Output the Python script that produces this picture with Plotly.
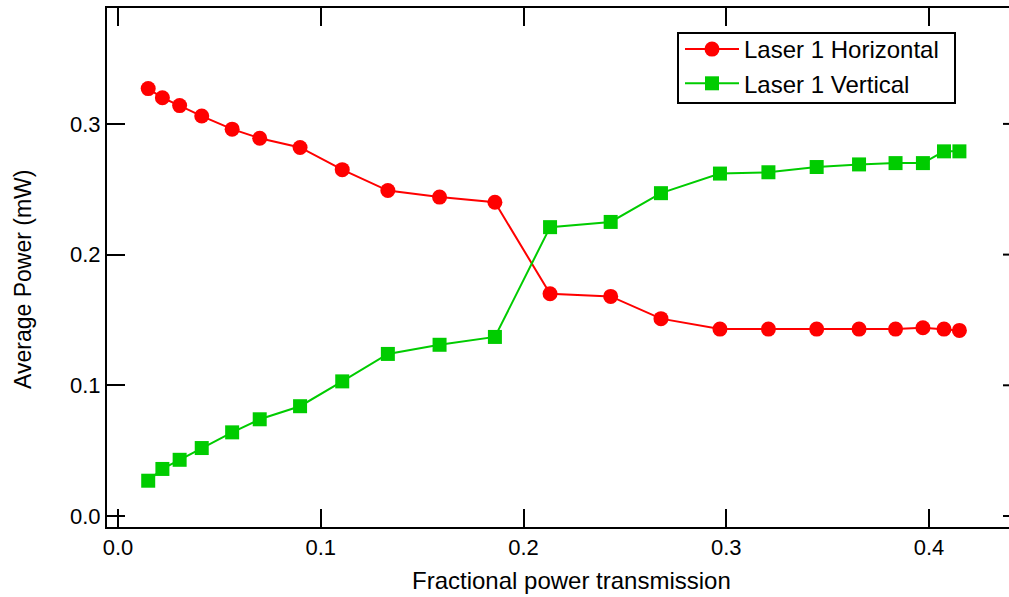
import plotly.graph_objects as go

# Data
frac_transmission = [0.0149, 0.0219, 0.0304, 0.0413, 0.0563, 0.0699, 0.0898, 0.1106,
                     0.1331, 0.1586, 0.1859, 0.2131, 0.2430, 0.2678, 0.2969, 0.3208,
                     0.3446, 0.3655, 0.3835, 0.3970, 0.4074, 0.4150]
laser1_horizontal = [0.327, 0.320, 0.314, 0.306, 0.296, 0.289, 0.282, 0.265,
                     0.249, 0.244, 0.240, 0.170, 0.168, 0.151, 0.143, 0.143,
                     0.143, 0.143, 0.143, 0.144, 0.143, 0.142]
laser1_vertical = [0.027, 0.036, 0.043, 0.052, 0.064, 0.074, 0.084, 0.103,
                   0.124, 0.131, 0.137, 0.221, 0.225, 0.247, 0.262, 0.263,
                   0.267, 0.269, 0.270, 0.270, 0.279, 0.279]
x_ticks = [0.0, 0.1, 0.2, 0.3, 0.4]
x_tick_labels = ["0.0", "0.1", "0.2", "0.3", "0.4"]
y_ticks = [0.0, 0.1, 0.2, 0.3]
y_tick_labels = ["0.0", "0.1", "0.2", "0.3"]
x_title = "Fractional power transmission"
y_title = "Average Power (mW)"

FONT = "Liberation Sans, Arial, Helvetica, sans-serif"
W, H = 1009, 597
ML, MR, MT, MB = 107, 0, 8, 70
PW, PH = W - ML - MR, H - MT - MB

fig = go.Figure()
fig.add_trace(go.Scatter(
    x=frac_transmission, y=laser1_horizontal, mode="lines+markers",
    name="Laser 1 Horizontal",
    line=dict(color="#FF0000", width=2),
    marker=dict(symbol="circle", size=15, color="#FF0000", line=dict(width=0)),
))
fig.add_trace(go.Scatter(
    x=frac_transmission, y=laser1_vertical, mode="lines+markers",
    name="Laser 1 Vertical",
    line=dict(color="#00CC00", width=2),
    marker=dict(symbol="square", size=14, color="#00CC00", line=dict(width=0)),
))

# right-side short mirror ticks (the right frame lies just outside the picture)
for yv in y_ticks:
    fig.add_shape(type="line", xref="paper", yref="y", x0=1 - 6 / PW, x1=1,
                  y0=yv, y1=yv, line=dict(color="black", width=2))

# legend frame (wider than plotly's own legend box)
fig.add_shape(type="rect", xref="paper", yref="paper", layer="above",
              x0=(678 - ML) / PW, x1=(955 - ML) / PW,
              y0=1 - (103 - MT) / PH, y1=1 - (33 - MT) / PH,
              line=dict(color="black", width=2), fillcolor="white")

# axis titles as annotations for exact placement
fig.add_annotation(text=x_title, xref="paper", yref="paper",
                   x=(571.5 - ML) / PW, y=1 - (580 - MT) / PH,
                   xanchor="center", yanchor="middle", showarrow=False,
                   font=dict(family=FONT, size=24, color="black"))
fig.add_annotation(text=y_title, xref="paper", yref="paper",
                   x=(23 - ML) / PW, y=1 - (280 - MT) / PH, textangle=-90,
                   xanchor="center", yanchor="middle", showarrow=False,
                   font=dict(family=FONT, size=23, color="black"))

fig.update_layout(
    width=W, height=H,
    margin=dict(l=ML, r=MR, t=MT, b=MB),
    paper_bgcolor="white", plot_bgcolor="white",
    font=dict(family=FONT, size=22, color="black"),
    showlegend=True,
    legend=dict(
        x=(680 - ML) / PW, y=1 - (27 - MT) / PH, xanchor="left", yanchor="top",
        bgcolor="rgba(0,0,0,0)", borderwidth=0,
        font=dict(family=FONT, size=24, color="black"),
        tracegroupgap=0, itemwidth=54,
    ),
)
fig.update_xaxes(
    range=[(107 - 118) / 2027.5, (1009 - 118) / 2027.5],
    tickvals=x_ticks, ticktext=x_tick_labels,
    ticks="inside", ticklen=18, tickwidth=2, tickcolor="black",
    showline=True, linecolor="black", linewidth=2, mirror="ticks",
    showgrid=False, zeroline=False,
    tickfont=dict(size=22),
)
fig.update_yaxes(
    range=[-(527 - 516) / 1307, (516 - 8) / 1307],
    tickvals=y_ticks, ticktext=y_tick_labels,
    ticks="inside", ticklen=18, tickwidth=2, tickcolor="black",
    showline=True, linecolor="black", linewidth=2, mirror=False,
    showgrid=False, zeroline=False,
    tickfont=dict(size=22),
)

fig.write_html("out.html")
